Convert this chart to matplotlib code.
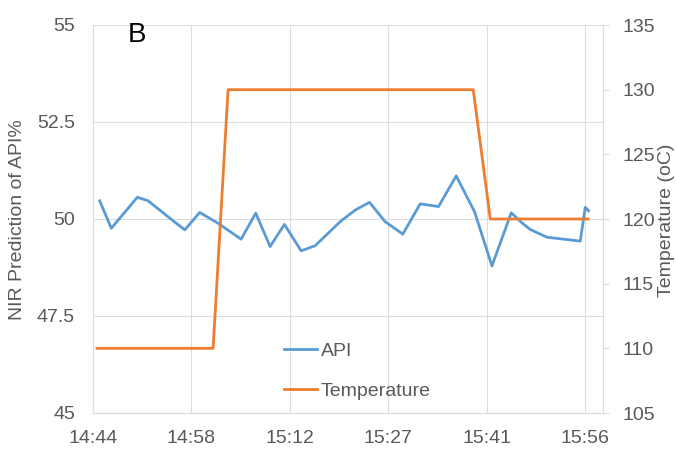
import matplotlib
matplotlib.use("Agg")
import matplotlib.pyplot as plt

plt.rcParams['font.family'] = ['Liberation Sans', 'DejaVu Sans']

# time of day as fraction of a day
api_time = [0.61468, 0.61586, 0.61850, 0.61959, 0.62078, 0.62196, 0.62332, 0.62484,
            0.62670, 0.62904, 0.63053, 0.63199, 0.63344, 0.63514, 0.63656, 0.63910,
            0.64063, 0.64208, 0.64368, 0.64547, 0.64723, 0.64909, 0.65089, 0.65275,
            0.65452, 0.65648, 0.65757, 0.65841, 0.66011, 0.66349, 0.66400, 0.66434]
api_pred = [50.47, 49.76, 50.56, 50.47, 50.23, 49.99, 49.72, 50.17,
            49.89, 49.48, 50.15, 49.29, 49.86, 49.18, 49.31, 49.93,
            50.23, 50.43, 49.93, 49.61, 50.39, 50.32, 51.11, 50.19,
            48.79, 50.16, 49.90, 49.73, 49.53, 49.43, 50.30, 50.21]

temp_time = [0.61440, 0.62620, 0.62772, 0.65262, 0.65435, 0.66430]
temp_c = [110, 110, 130, 130, 120, 120]

xtick_pos = [0.614, 0.624, 0.634, 0.644, 0.654, 0.664]
xtick_labels = ["14:44", "14:58", "15:12", "15:27", "15:41", "15:56"]
left_ticks = [45, 47.5, 50, 52.5, 55]
right_ticks = [105, 110, 115, 120, 125, 130, 135]

W, H = 676, 449
fig = plt.figure(figsize=(W / 100, H / 100), dpi=100)
ax = fig.add_axes([93 / W, 1 - 413 / H, (603 - 93) / W, (413 - 25) / H])
ax2 = ax.twinx()

grid_c = '#DCDCDC'
text_c = '#595959'

l1, = ax.plot(api_time, api_pred, color='#5B9BD5', lw=2, label='API', zorder=3)
l2, = ax2.plot(temp_time, temp_c, color='#ED7D31', lw=2, label='Temperature')

ax.set_xlim(0.614, 0.6658)
ax.set_ylim(45, 55)
ax2.set_ylim(105, 135)

ax.set_xticks(xtick_pos)
ax.set_xticklabels(xtick_labels)
ax.set_yticks(left_ticks)
ax.set_yticklabels(['45', '47.5', '50', '52.5', '55'])
ax2.set_yticks(right_ticks)

ax.grid(True, color=grid_c, lw=0.8)
ax.set_axisbelow(True)

for a in (ax, ax2):
    for s in a.spines.values():
        s.set_color(grid_c)
        s.set_linewidth(0.8)
    a.spines['top'].set_visible(False)

ax.tick_params(axis='both', length=0, labelsize=14, colors=text_c)
ax.tick_params(axis='y', pad=13)
ax.tick_params(axis='x', pad=12)
ax2.tick_params(axis='y', length=4, labelsize=14, colors=text_c, pad=10)
ax2.tick_params(axis='y', color=grid_c)

fig.text(9 / W, 1 - 220 / H, 'NIR Prediction of API%', rotation=90,
         ha='left', va='center', fontsize=14, color=text_c)
fig.text(675 / W, 1 - 220 / H, 'Temperature (oC)', rotation=90,
         ha='right', va='center', fontsize=14, color=text_c)
fig.text(128 / W, 1 - 42 / H, 'B', fontsize=20, color='black', va='baseline')

ax.legend(handles=[l1, l2], loc='upper left', bbox_to_anchor=(284 / W, 1 - 342 / H),
          bbox_transform=fig.transFigure, frameon=False, fontsize=14,
          labelcolor=text_c, handlelength=1.7, handletextpad=0.2,
          labelspacing=1.15, borderpad=0, borderaxespad=0)

fig.savefig('out.png', dpi=100)
